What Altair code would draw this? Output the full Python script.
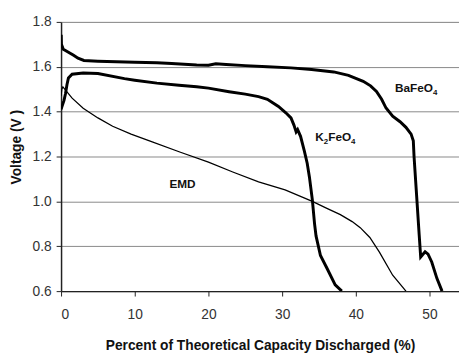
import altair as alt
import pandas as pd

# ---- data ----
ba_x = [0, 0.02, 0.05, 0.3, 1.0, 1.7, 2.3, 3.1, 5, 10, 13, 15, 18.4, 20, 21, 22.4, 25, 28, 31.2, 34, 37,
        39, 41, 42, 42.8, 43.5, 44.1, 45, 46, 46.8, 47.5, 47.8, 47.9, 48.2, 48.6, 48.8, 49.0, 49.4,
        49.8, 50.3, 51.0, 51.7]
ba_y = [1.695, 1.743, 1.70, 1.678, 1.665, 1.651, 1.638, 1.628, 1.625, 1.62, 1.618, 1.615, 1.608, 1.607,
        1.613, 1.61, 1.605, 1.60, 1.595, 1.588, 1.577, 1.562, 1.535, 1.515, 1.49, 1.455, 1.416,
        1.38, 1.355, 1.33, 1.30, 1.27, 1.2, 1.05, 0.85, 0.752, 0.76, 0.775, 0.765, 0.73, 0.657, 0.6]

k_x = [0, 0.2, 0.4, 0.6, 0.8, 1.0, 1.5, 3, 5, 8.6, 10, 13, 16, 18.4, 20, 22.8, 25, 26.8, 28, 29.5,
       30.5, 31.2, 31.6, 31.9, 32.1, 32.5, 33, 33.4, 33.7, 34.1, 34.4, 34.6, 35.2, 36.1, 37.2, 38.1]
k_y = [1.41, 1.43, 1.45, 1.48, 1.52, 1.55, 1.567, 1.572, 1.57, 1.547, 1.54, 1.527, 1.518, 1.511, 1.505,
       1.489, 1.478, 1.467, 1.455, 1.423, 1.395, 1.372, 1.34, 1.31, 1.32, 1.29, 1.226, 1.17, 1.109,
       1.007, 0.9, 0.846, 0.759, 0.701, 0.628, 0.6]

emd_x = [0, 0.1, 0.25, 0.5, 1.0, 1.5, 3, 5, 7, 9.5, 12, 16.2, 20, 23.3, 26.8, 30.4, 34.1, 36, 37.9,
         39.5, 40.6, 41.9, 43.2, 45, 46.8]
emd_y = [1.47, 1.50, 1.51, 1.50, 1.48, 1.46, 1.415, 1.372, 1.335, 1.3, 1.27, 1.219, 1.175, 1.131, 1.087,
         1.051, 1.0, 0.97, 0.941, 0.91, 0.883, 0.839, 0.774, 0.671, 0.6]

# label pieces: (text, subscript?) per label, anchored at (x, y)
label_names = ["BaFeO4", "K2FeO4", "EMD"]
label_parts = [[("BaFeO", False), ("4", True)],
               [("K", False), ("2", True), ("FeO", False), ("4", True)],
               [("EMD", False)]]
label_x = [45.3, 34.5, 14.7]
label_y = [1.51, 1.29, 1.08]

x_ticks = [0, 10, 20, 30, 40, 50]
y_ticks = [0.6, 0.8, 1.0, 1.2, 1.4, 1.6, 1.8]

FONT = "Liberation Sans, Arial, sans-serif"
MAIN_SIZE = 12
SUB_SIZE = 8
# approximate Liberation Sans Bold advance widths (em)
W = {"B": 0.722, "a": 0.556, "F": 0.611, "e": 0.556, "O": 0.778, "K": 0.722, "E": 0.667,
     "M": 0.833, "D": 0.722, "2": 0.556, "4": 0.556}

thick = pd.concat([
    pd.DataFrame({"x": ba_x, "y": ba_y, "s": "BaFeO4", "o": range(len(ba_x))}),
    pd.DataFrame({"x": k_x, "y": k_y, "s": "K2FeO4", "o": range(len(k_x))}),
])
thin = pd.DataFrame({"x": emd_x, "y": emd_y, "o": range(len(emd_x))})

xs = alt.Scale(domain=[0, 54], nice=False, zero=False)
ys = alt.Scale(domain=[0.6, 1.8], nice=False, zero=False)

xenc = alt.X("x:Q", scale=xs, axis=alt.Axis(
    values=x_ticks, title="Percent of Theoretical Capacity Discharged (%)", grid=False,
    domainColor="#222", domainWidth=1.5, tickColor="#222", tickSize=5, tickWidth=1,
    labelFontSize=14, labelColor="#333", labelPadding=12, labelFont=FONT,
    titleFont=FONT, titleFontSize=14, titleFontWeight="bold", titleColor="#111", titlePadding=17))
yenc = alt.Y("y:Q", scale=ys, axis=alt.Axis(
    values=y_ticks, format=".1f", title="Voltage (V )",
    grid=True, gridColor="#888", gridWidth=1,
    domainColor="#222", domainWidth=1.5, tickColor="#222", tickSize=5, tickWidth=1,
    labelFontSize=14, labelColor="#333", labelPadding=5, labelFont=FONT,
    titleFont=FONT, titleFontSize=14, titleFontWeight="bold", titleColor="#111", titlePadding=9,
    titleY=127))

thick_lines = alt.Chart(thick).mark_line(color="black", strokeWidth=3, clip=True).encode(
    x=xenc, y=yenc, detail="s:N", order="o:Q")
thin_line = alt.Chart(thin).mark_line(color="black", strokeWidth=1.3, clip=True).encode(
    x="x:Q", y="y:Q", order="o:Q")

layers = [thick_lines, thin_line]
for name, parts, lx, ly in zip(label_names, label_parts, label_x, label_y):
    off = 0.0
    for txt, sub in parts:
        size = SUB_SIZE if sub else MAIN_SIZE
        df = pd.DataFrame({"t": [txt], "x": [lx], "y": [ly]})
        layers.append(alt.Chart(df).mark_text(
            align="left", baseline="alphabetic", font=FONT, fontSize=size, fontWeight="bold",
            color="#111", dx=off, dy=(8 if sub else 5)).encode(x="x:Q", y="y:Q", text="t:N"))
        off += sum(W.get(c, 0.6) for c in txt) * size

chart = alt.layer(*layers).properties(
    width=405, height=274, autosize="none",
    padding={"left": 54, "top": 11, "right": 0, "bottom": 70},
).configure_view(strokeWidth=0).configure(background="white")

chart.save("out.html", embed_options={"renderer": "svg", "actions": False})
